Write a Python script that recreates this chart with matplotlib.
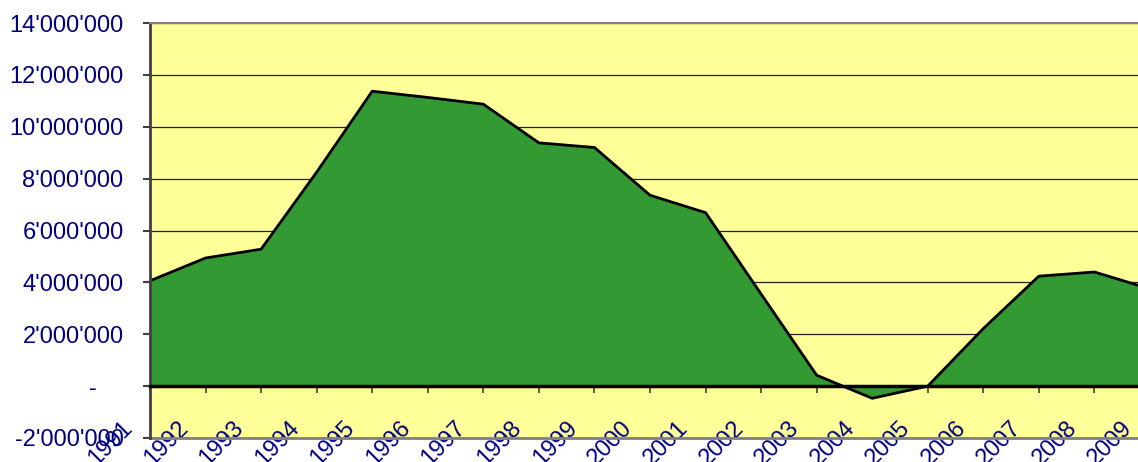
import matplotlib
matplotlib.use('Agg')
import matplotlib.pyplot as plt
import matplotlib.transforms as mtransforms
from matplotlib.ticker import FuncFormatter, MultipleLocator

# values
years = [str(y) for y in range(1991, 2010)]
values = [4.06e6, 4.94e6, 5.28e6, 8.25e6, 11.37e6, 11.13e6, 10.87e6, 9.38e6,
          9.20e6, 7.36e6, 6.69e6, 3.55e6, 0.42e6, -0.47e6, 0.0, 2.22e6,
          4.24e6, 4.40e6, 3.75e6]

navy = '#000080'
plt.rcParams['font.family'] = ['Liberation Sans', 'DejaVu Sans']

fig = plt.figure(figsize=(11.38, 4.62), dpi=100)
ax = fig.add_axes([150 / 1138, 24 / 462, 1000 / 1138, 415 / 462])
ax.set_facecolor('#FFFF99')

x = list(range(len(years)))
ax.fill_between(x, values, 0, color='#339933', linewidth=0)
ax.plot(x, values, color='black', linewidth=2)

ax.set_xlim(0, 18)
ax.set_ylim(-2e6, 14e6)

ax.yaxis.set_major_locator(MultipleLocator(2e6))


def fmt(v, pos):
    if abs(v) < 1:
        return '-    '
    s = f"{int(round(v)):,}".replace(',', "'")
    return s


ax.yaxis.set_major_formatter(FuncFormatter(fmt))
ax.grid(axis='y', color='#222222', linewidth=0.9)
ax.set_axisbelow(True)

ax.spines['bottom'].set_position(('data', 0))
ax.spines['bottom'].set_linewidth(2.5)
ax.spines['bottom'].set_zorder(3)
ax.spines['left'].set_color('#404040')
ax.spines['left'].set_linewidth(2)
ax.spines['top'].set_color('#808080')
ax.spines['top'].set_linewidth(1.5)
ax.spines['right'].set_visible(False)
ax.axhline(-2e6, color='#808080', linewidth=2, clip_on=False)

ax.tick_params(axis='x', direction='out', length=5, width=1.2, color='#404040',
               pad=17, labelsize=17, labelcolor=navy, labelrotation=45)
ax.tick_params(axis='y', direction='out', length=5, width=1.5, color='#404040',
               pad=14, labelsize=17, labelcolor=navy)

ax.set_xticks(x)
ax.set_xticklabels(years)

# shift the rotated year labels a little to the left, like the original
offset = mtransforms.ScaledTranslation(-13 / 100, 0, fig.dpi_scale_trans)
for label in ax.get_xticklabels():
    label.set_horizontalalignment('right')
    label.set_verticalalignment('top')
    label.set_rotation(45)
    label.set_transform(label.get_transform() + offset)

plt.savefig('out.png', dpi=100)
